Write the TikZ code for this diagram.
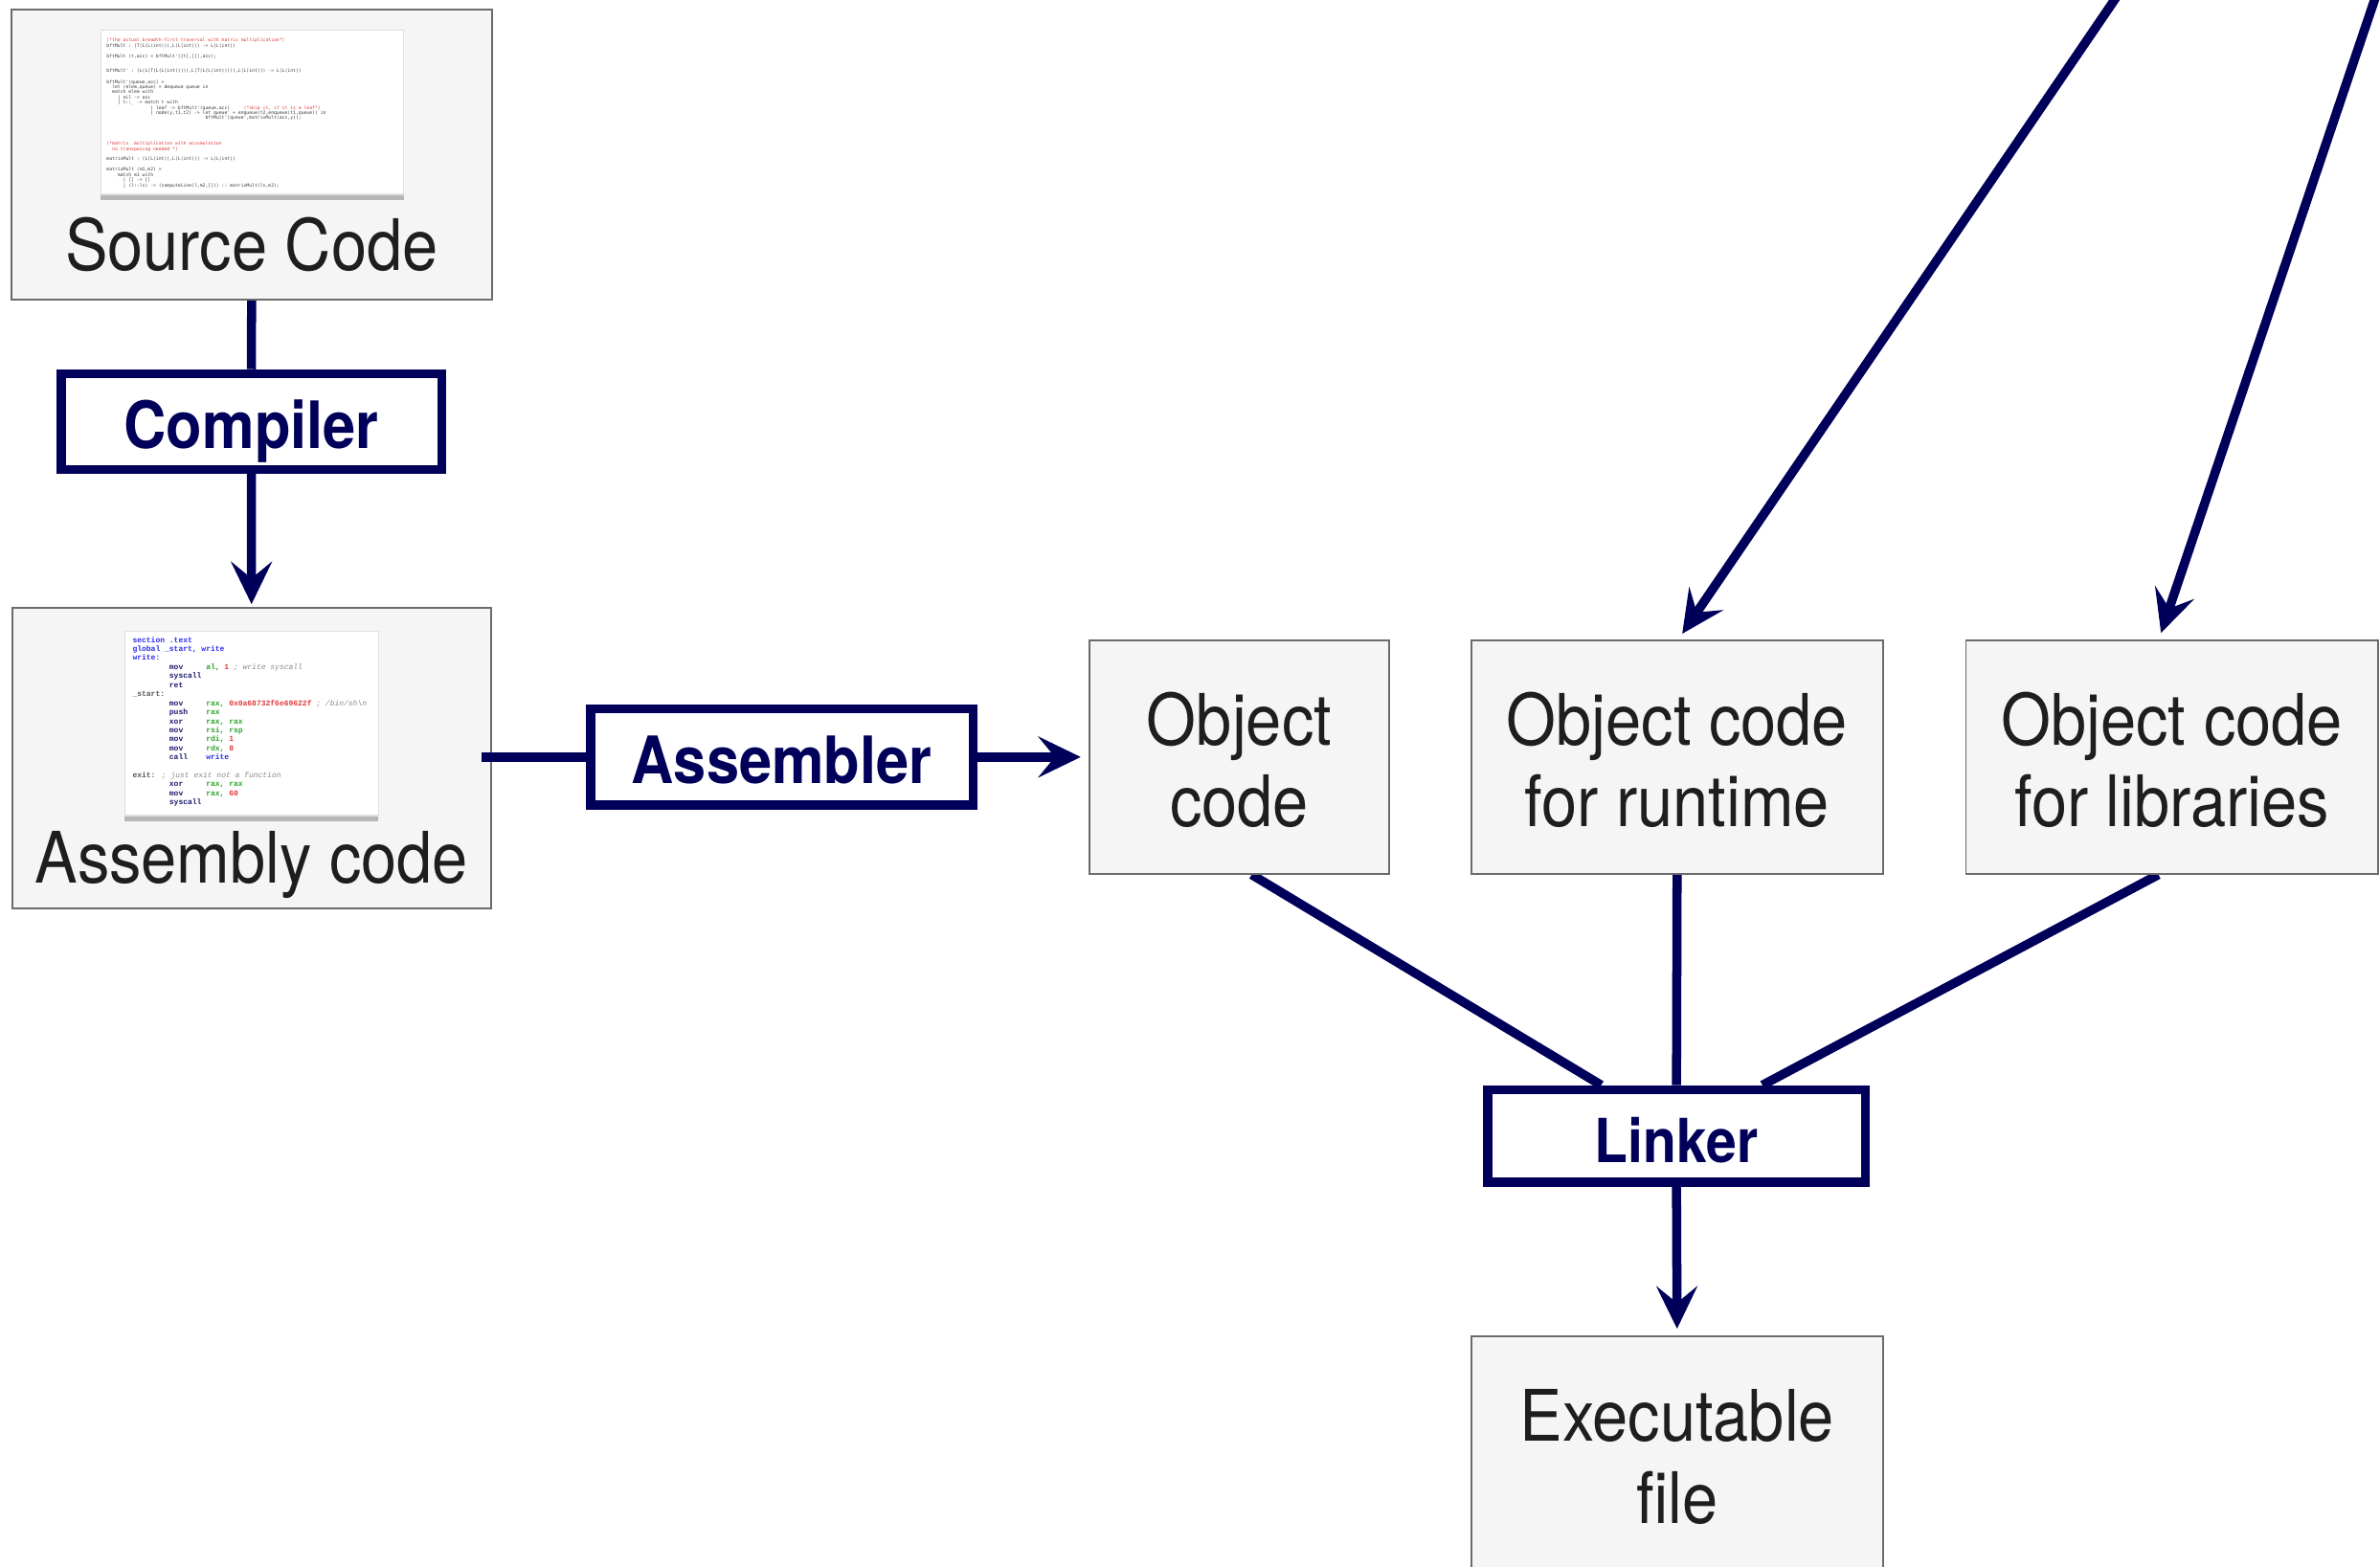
\documentclass[tikz,border=0pt]{standalone}
\usepackage{fontspec}
\setmainfont{TeX Gyre Heros}[FakeStretch=0.9]
\setmonofont{DejaVu Sans Mono}
\newfontfamily\asmfont{Liberation Mono}
\usetikzlibrary{arrows.meta,backgrounds,shadows,calc}
\definecolor{navy}{RGB}{0,0,90}
\definecolor{boxfill}{HTML}{F5F5F5}
\definecolor{boxline}{HTML}{6B6B6B}
\definecolor{txt}{HTML}{1E1E1E}
\definecolor{cred}{HTML}{E03A3A}
\definecolor{cblue}{HTML}{2D2DF0}
\definecolor{cgreen}{HTML}{2AA52A}
\definecolor{cgray}{HTML}{8A8A8A}
\definecolor{cnavy}{HTML}{1C1C70}
\definecolor{cdark}{HTML}{555555}
\definecolor{ccode}{HTML}{3A3A3A}
\newcommand\codeind[1]{\hspace*{#1\fontcharwd\font`0}}
\newcommand\twoln[2]{\begin{tabular}[b]{@{}c@{}}#1\\#2\end{tabular}}
\tikzset{
  greybox/.style={draw=boxline, line width=0.6pt, fill=boxfill, inner sep=0pt,
    text=txt, font={\fontsize{23.4pt}{27pt}\selectfont}},
  objbox/.style={greybox, minimum height=76.95pt, text height=46pt, text depth=0pt},
  toolbox/.style={draw=navy, line width=3pt, fill=white, inner sep=0pt, text=navy,
    font={\fontsize{21.5pt}{25pt}\selectfont\bfseries}, text height=17.5pt, text depth=0pt},
  card/.style={draw=black!12, line width=0.4pt, fill=white, inner sep=0pt,
    drop shadow={shadow xshift=0pt, shadow yshift=-2pt, fill=black, opacity=0.25}},
  conn/.style={draw=navy, line width=3pt},
  arr/.style={conn, -{Stealth[length=14pt,width=13.5pt,inset=5.5pt]}}
}
\begin{document}
\begin{tikzpicture}[x=0.5pt,y=-0.5pt]
\useasboundingbox (0,0) rectangle (1568,1032.5);
\clip (0,0) rectangle (1568,1032.5);

% grey boxes
\node[greybox, minimum width=158.25pt, minimum height=95.65pt,
      text height=76.4pt, text depth=0pt] (src) at (165.75,101.95) {Source Code};
\node[greybox, minimum width=157.7pt, minimum height=99.25pt,
      text height=82.2pt, text depth=0pt] (asmcode) at (165.7,499.55) {Assembly code};
\node[objbox, minimum width=98.85pt] (obj) at (816.45,498.75) {\twoln{Object}{code}};
\node[objbox, minimum width=135.7pt] (rt) at (1104.9,498.75) {\twoln{Object code}{for runtime}};
\node[objbox, minimum width=135.7pt] (lib) at (1430.9,498.75) {\twoln{Object code}{for libraries}};
\node[objbox, minimum width=135.7pt] (exe) at (1104.9,957.65) {\twoln{Executable}{file}};

% tool boxes
\node[toolbox, minimum width=125.35pt, minimum height=31.5pt] (cmp) at (165.65,277.8) {Compiler};
\node[toolbox, minimum width=126pt, minimum height=31.8pt] (asmr) at (515,498.8) {Assembler};
\node[toolbox, minimum width=124.5pt, minimum height=30.5pt,
      font={\fontsize{20pt}{24pt}\selectfont\bfseries}] (lnk) at (1104.5,748.5) {Linker};

% code thumbnails
\node[card, minimum width=99.8pt, minimum height=54pt] (srccard) at (166.2,74) {};
\node[anchor=north west, inner sep=0pt, align=left, text=ccode,
      font={\ttfamily\fontsize{1.5pt}{1.7pt}\selectfont}] (srctext) at (69.9,25) {%
{\color{cred}(*the actual breadth-first traversal with matrix multiplication*)}\\
bftMult : (T(L(L(int))),L(L(int))) -> L(L(int))\\[1.75pt]
bftMult (t,acc) = bftMult'([t],[]),acc);\\[3.25pt]
bftMult' : (L(L(T(L(L(int))))),L(T(L(L(int))))),L(L(int))) -> L(L(int))\\[1.85pt]
bftMult'(queue,acc) =\\
\codeind{2}let (elem,queue) = dequeue queue in\\
\codeind{2}match elem with\\
\codeind{4}| nil -> acc\\
\codeind{4}| t::\_ -> match t with\\
\codeind{16}| leaf -> bftMult'(queue,acc)\codeind{5}{\color{cred}(*skip it, if it is a leaf*)}\\
\codeind{16}| node(y,t1,t2) -> let queue' = enqueue(t2,enqueue(t1,queue)) in\\
\codeind{36}bftMult'(queue',matrixMult(acc,y));\\[6.8pt]
{\color{cred}(*matrix\codeind{2}multiplication with accumulation}\\
{\color{cred}\codeind{2}no transposing needed *)}\\[1.65pt]
matrixMult : (L(L(int)),L(L(int))) -> L(L(int))\\[1.8pt]
matrixMult (m1,m2) =\\
\codeind{4}match m1 with\\
\codeind{6}| [] -> []\\
\codeind{6}| (l::ls) -> (computeLine(l,m2,[])) :: matrixMult(ls,m2);};

\node[card, minimum width=83.65pt, minimum height=60.65pt] (asmcard) at (165.75,476.75) {};
\node[anchor=north west, inner sep=0pt, align=left, text=cnavy,
      font={\asmfont\bfseries\fontsize{2.52pt}{2.98pt}\selectfont}] (asmtext) at (87,419.2) {%
{\color{cblue}section .text}\\
{\color{cblue}global \_start, write}\\
{\color{cblue}write:}\\
\codeind{8}mov\codeind{5}{\color{cgreen}al,} {\color{cred}1} {\color{cgray}\mdseries\itshape; write syscall}\\
\codeind{8}syscall\\
\codeind{8}ret\\
{\color{cdark}\_start:}\\
\codeind{8}mov\codeind{5}{\color{cgreen}rax,} {\color{cred}0x0a68732f6e69622f} {\color{cgray}\mdseries\itshape; /bin/sh\textbackslash n}\\
\codeind{8}push\codeind{4}{\color{cgreen}rax}\\
\codeind{8}xor\codeind{5}{\color{cgreen}rax, rax}\\
\codeind{8}mov\codeind{5}{\color{cgreen}rsi, rsp}\\
\codeind{8}mov\codeind{5}{\color{cgreen}rdi,} {\color{cred}1}\\
\codeind{8}mov\codeind{5}{\color{cgreen}rdx,} {\color{cred}8}\\
\codeind{8}call\codeind{4}{\color{cblue}write}\\[2.8pt]
{\color{cdark}exit:} {\color{cgray}\mdseries\itshape; just exit not a function}\\
\codeind{8}xor\codeind{5}{\color{cgreen}rax, rax}\\
\codeind{8}mov\codeind{5}{\color{cgreen}rax,} {\color{cred}60}\\
\codeind{8}syscall};

% connectors behind the boxes
\begin{scope}[on background layer]
\draw[conn] (src.south) -- (cmp.north);
\draw[arr, shorten >=0.8pt] (cmp.south) -- (asmcode.north);
\draw[arr, shorten >=2.5pt] (asmr.east) -- (asmr.east -| obj.west);
\draw[conn] ([xshift=4.1pt]obj.south) -- ([xshift=-24.8pt]lnk.north);
\draw[conn] (rt.south) -- (lnk.north);
\draw[conn] ([xshift=-4.45pt]lib.south) -- ([xshift=28.3pt]lnk.north);
\draw[arr, shorten >=2.3pt] (lnk.south) -- (exe.north);
\end{scope}

% line from the assembly box, drawn over it
\draw[conn] ([xshift=-3.5pt]asmcode.east |- asmr.west) -- (asmr.west);

% arrows coming from outside the picture
\coordinate (rtsrc) at (1461.2,-100);
\coordinate (libsrc) at (1598.1,-100);
\draw[arr, shorten >=2.2pt] (rtsrc) -- ([xshift=0.45pt]rt.north);
\draw[arr, shorten >=2.2pt] (libsrc) -- ([xshift=-4.3pt]lib.north);
\end{tikzpicture}
\end{document}
